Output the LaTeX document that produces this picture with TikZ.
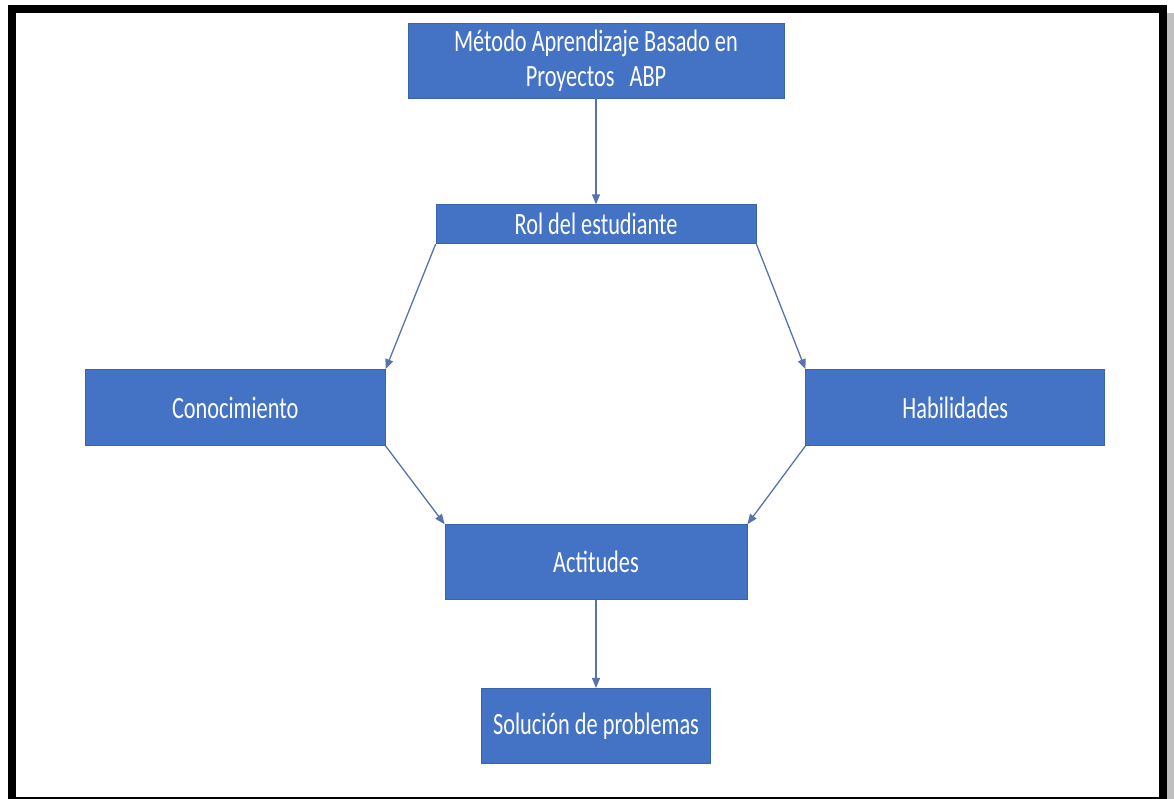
\documentclass[tikz,border=0pt]{standalone}
\usepackage{fontspec}
\setmainfont{Carlito}[FakeStretch=0.72]
\usetikzlibrary{arrows.meta,positioning}
\definecolor{boxblue}{HTML}{4472C4}
\definecolor{boxline}{HTML}{3A63AE}
\definecolor{arrowblue}{HTML}{5673AE}
\tikzset{
    %Define standard arrow tip
    >={Triangle[length=10pt,width=8pt]},
    caja/.style={
      rectangle,
      fill=boxblue,
      draw=boxline, line width=0.8pt,
      text=white,
      inner sep=0pt,
      align=center,
      font=\fontsize{31}{35}\selectfont},
    flecha/.style={
      ->,
      draw=arrowblue, line width=1.3pt},
}

\begin{document}
\begin{tikzpicture}[x=1pt,y=1pt]
    \useasboundingbox (0,0) rectangle (1174,799);
    % marco
    \fill[black!25] (1167,0) rectangle (1174,786);
    \draw[line width=8pt] (12,-2) rectangle (1163,790);
    \node (metodo) [caja,minimum width=376pt,minimum height=75pt] at (596,738.5)
          {M\'etodo Aprendizaje Basado en\\Proyectos\ \ \ ABP};
    \node (rol) [caja,minimum width=320pt,minimum height=39pt] [below=106pt of metodo]
          {Rol del estudiante}
          edge [flecha,<-] (metodo);
    \node (conoc) [caja,minimum width=300pt,minimum height=76pt]
          [below left=125pt and 50pt of rol]
          {Conocimiento};
    \node (habil) [caja,minimum width=299pt,minimum height=76pt]
          [below right=125pt and 49pt of rol]
          {Habilidades};
    \node (actit) [caja,minimum width=302pt,minimum height=75pt] [below=280pt of rol]
          {Actitudes};
    \node (soluc) [caja,minimum width=229pt,minimum height=75pt] [below=88pt of actit]
          {Soluci\'on de problemas}
          edge [flecha,<-] (actit);
    \draw [flecha] (rol.south west) -- (conoc.north east);
    \draw [flecha] (rol.south east) -- (habil.north west);
    \draw [flecha] (conoc.south east) -- (actit.north west);
    \draw [flecha] (habil.south west) -- (actit.north east);
\end{tikzpicture}
\end{document}
